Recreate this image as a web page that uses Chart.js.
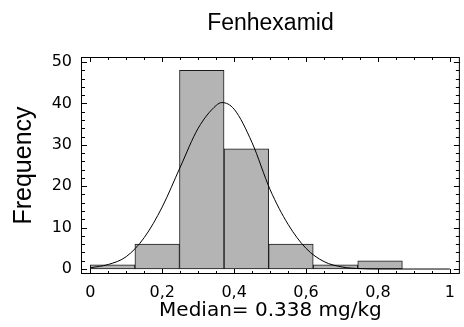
<!DOCTYPE html>
<html>
<head>
<meta charset="utf-8">
<script src="https://cdn.jsdelivr.net/npm/chart.js@4.4.1/dist/chart.umd.min.js"></script>
<style>
    html, body { margin: 0; padding: 0; background: #fff; }
    #wrap { position: relative; width: 464px; height: 327px; }
</style>
</head>
<body>
<div id="wrap"><canvas id="hist"></canvas></div>
<script>
// histogram bins (mg/kg) and counts
const binEdges = [0, 0.124, 0.248, 0.372, 0.496, 0.62, 0.744, 0.868, 0.992];
const binCounts = [1, 6, 48, 29, 6, 1, 2, 0];

// fitted normal curve, read point by point
const fitX = [0, 0.05, 0.1, 0.15, 0.2, 0.25, 0.3, 0.35, 0.366, 0.4, 0.45, 0.5, 0.55, 0.6, 0.65, 0.7, 0.75, 0.8, 0.9, 1.0];
const fitY = [0.3, 1.1, 3.0, 7.6, 15.0, 24.6, 34.0, 39.5, 40.2, 38.6, 30.5, 19.2, 10.8, 5.0, 1.8, 0.5, 0.1, 0, 0, 0];

// axis ticks
const xTickValues = [0, 0.2, 0.4, 0.6, 0.8, 1];
const xTickLabels = ["0", "0,2", "0,4", "0,6", "0,8", "1"];
const yTickValues = [0, 10, 20, 30, 40, 50];

const tickFont = { family: "DejaVu Sans", size: 16 };

// frame around the plot with inward ticks on all four sides
const frameTicks = {
    id: "frameTicks",
    afterDraw(chart) {
        const { ctx, chartArea: a, scales: { x, y } } = chart;
        ctx.save();
        ctx.strokeStyle = "#000";
        ctx.lineWidth = 1;
        ctx.strokeRect(a.left + 0.5, a.top + 0.5, a.right - a.left - 1, a.bottom - a.top - 1);
        ctx.beginPath();
        for (let i = 0; i <= 20; i++) {
            const len = i % 4 === 0 ? 5 : 3;
            const px = Math.round(x.getPixelForValue(i * 0.05)) + 0.5;
            ctx.moveTo(px, a.top);
            ctx.lineTo(px, a.top + len);
            ctx.moveTo(px, a.bottom);
            ctx.lineTo(px, a.bottom - len);
        }
        for (let v = 0; v <= 50; v += 2) {
            const len = v % 10 === 0 ? 6 : 4;
            const py = Math.round(y.getPixelForValue(v)) + 0.5;
            ctx.moveTo(a.left, py);
            ctx.lineTo(a.left + len, py);
            ctx.moveTo(a.right, py);
            ctx.lineTo(a.right - len, py);
        }
        ctx.stroke();

        // title over the plot box
        ctx.fillStyle = "#000";
        ctx.font = "23px 'Liberation Sans', Arial, sans-serif";
        ctx.textAlign = "center";
        ctx.textBaseline = "middle";
        ctx.fillText("Fenhexamid", (a.left + a.right) / 2, 23.5);
        ctx.restore();
    }
};

new Chart(document.getElementById("hist"), {
    type: "bar",
    data: {
        datasets: [
            {
                type: "line",
                data: fitX.map((x, i) => ({ x: x, y: fitY[i] })),
                borderColor: "#000",
                borderWidth: 1,
                pointRadius: 0,
                cubicInterpolationMode: "monotone",
                order: 0
            },
            {
                type: "bar",
                data: binCounts.map((c, i) => ({ x: (binEdges[i] + binEdges[i + 1]) / 2, y: c })),
                backgroundColor: "#b4b4b4",
                borderColor: "#1a1a1a",
                borderWidth: 1,
                borderSkipped: false,
                barPercentage: 1,
                categoryPercentage: 1,
                order: 1
            }
        ]
    },
    options: {
        responsive: true,
        maintainAspectRatio: false,
        animation: false,
        layout: {
            padding: { top: 57, right: 4, left: 0, bottom: 0 }
        },
        scales: {
            x: {
                type: "linear",
                min: -0.026,
                max: 1.028,
                offset: false,
                grid: { display: false, drawTicks: false },
                border: { display: false },
                afterBuildTicks: (s) => { s.ticks = xTickValues.map(v => ({ value: v })); },
                afterFit: (s) => { s.height = 53; },
                ticks: {
                    padding: 9,
                    color: "#000",
                    font: tickFont,
                    maxRotation: 0,
                    autoSkip: false,
                    callback: (v, i) => xTickLabels[i]
                },
                title: {
                    display: true,
                    text: "Median= 0.338 mg/kg",
                    color: "#000",
                    font: { family: "DejaVu Sans", size: 20 },
                    padding: { top: 0, bottom: 4 }
                }
            },
            y: {
                min: -1.2,
                max: 51.2,
                grid: { display: false, drawTicks: false },
                border: { display: false },
                afterBuildTicks: (s) => { s.ticks = yTickValues.map(v => ({ value: v })); },
                afterFit: (s) => { s.width = 81; },
                ticks: {
                    padding: 9,
                    color: "#000",
                    font: tickFont,
                    autoSkip: false
                },
                title: {
                    display: true,
                    text: "Frequency",
                    color: "#000",
                    font: { family: "'Liberation Sans', Arial, sans-serif", size: 25 },
                    padding: { top: 9, bottom: 0 }
                }
            }
        },
        plugins: {
            legend: { display: false },
            tooltip: { enabled: false }
        }
    },
    plugins: [frameTicks]
});
</script>
</body>
</html>
